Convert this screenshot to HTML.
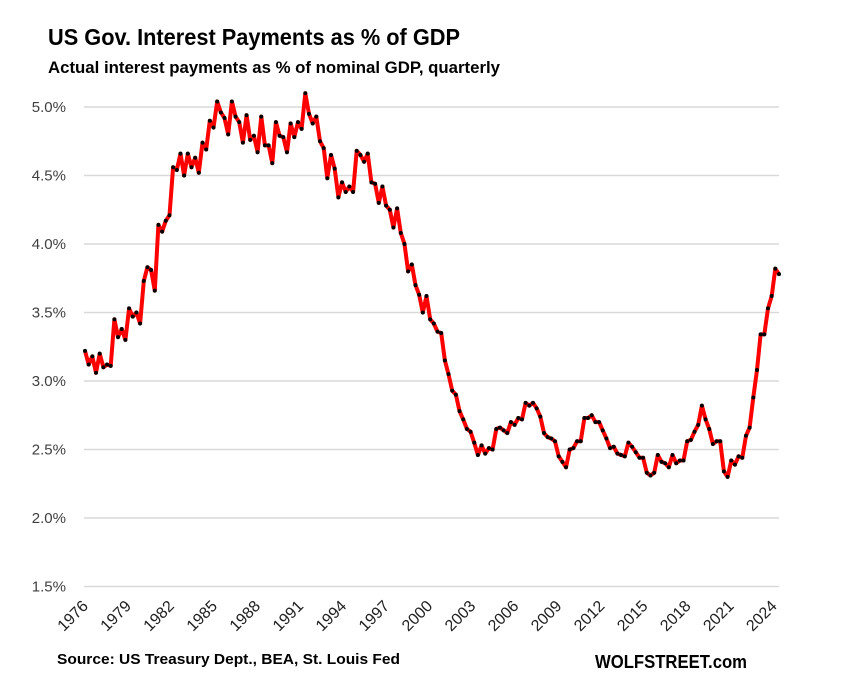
<!DOCTYPE html>
<html><head><meta charset="utf-8"><style>
body{margin:0;background:#fff;}
svg{display:block;font-family:"Liberation Sans",sans-serif;}
</style></head><body>
<svg id="c" width="843" height="691" viewBox="0 0 843 691" xmlns="http://www.w3.org/2000/svg">
<text x="48" y="45" font-size="23" font-weight="bold" fill="#000" textLength="412" lengthAdjust="spacingAndGlyphs">US Gov. Interest Payments as % of GDP</text>
<text x="48" y="73" font-size="17" font-weight="bold" fill="#000" textLength="452" lengthAdjust="spacingAndGlyphs">Actual interest payments as % of nominal GDP, quarterly</text>
<g id="grid" stroke="#d9d9d9" stroke-width="1.5"></g>
<g id="yl" font-size="15" fill="#404040" text-anchor="end"></g>
<g id="xl" font-size="16" fill="#202020" text-anchor="end"></g>
<polyline id="ln" fill="none" stroke="#ff0000" stroke-width="4" stroke-linejoin="round"/>
<g id="mk" fill="#000"></g>
<text x="57" y="664" font-size="15" font-weight="bold" fill="#000" textLength="343" lengthAdjust="spacingAndGlyphs">Source: US Treasury Dept., BEA, St. Louis Fed</text>
<text x="595" y="668" font-size="18" font-weight="bold" fill="#000" textLength="152" lengthAdjust="spacingAndGlyphs">WOLFSTREET.com</text>
</svg>
<script>
var ns="http://www.w3.org/2000/svg";
function el(t,a,p,txt){var e=document.createElementNS(ns,t);for(var k in a)e.setAttribute(k,a[k]);if(txt)e.textContent=txt;document.getElementById(p).appendChild(e);}
function Y(v){return 107+(5.0-v)*137;}
var labs=["5.0%","4.5%","4.0%","3.5%","3.0%","2.5%","2.0%","1.5%"];
for(var i=0;i<8;i++){var v=5-0.5*i,y=Y(v);el("line",{x1:84,x2:779,y1:y,y2:y},"grid");el("text",{x:66,y:y+5},"yl",labs[i]);}
for(var yr=1976;yr<=2024;yr+=3){var x=89+(yr-1976)*14.35;el("text",{x:x,y:607,transform:"rotate(-45 "+x+" 607)"},"xl",""+yr);}
var d=[3.22,3.12,3.18,3.06,3.2,3.1,3.12,3.11,3.45,3.32,3.38,3.3,3.53,3.47,3.5,3.42,3.73,3.83,3.81,3.66,4.14,4.09,4.17,4.21,4.56,4.54,4.66,4.5,4.66,4.56,4.63,4.52,4.74,4.69,4.9,4.85,5.04,4.96,4.92,4.8,5.04,4.93,4.89,4.74,4.94,4.76,4.79,4.67,4.93,4.72,4.72,4.59,4.89,4.79,4.78,4.67,4.88,4.78,4.89,4.84,5.1,4.95,4.88,4.93,4.75,4.7,4.48,4.65,4.55,4.34,4.45,4.38,4.42,4.38,4.68,4.65,4.6,4.66,4.45,4.44,4.3,4.42,4.28,4.25,4.12,4.26,4.08,4.0,3.8,3.85,3.7,3.63,3.5,3.62,3.45,3.42,3.36,3.35,3.15,3.05,2.93,2.9,2.78,2.72,2.65,2.63,2.55,2.46,2.53,2.47,2.51,2.5,2.65,2.66,2.64,2.62,2.7,2.68,2.73,2.72,2.84,2.82,2.84,2.8,2.74,2.62,2.59,2.58,2.56,2.45,2.41,2.37,2.5,2.51,2.56,2.56,2.73,2.73,2.75,2.7,2.7,2.64,2.58,2.51,2.52,2.47,2.46,2.45,2.55,2.52,2.48,2.44,2.44,2.33,2.31,2.33,2.46,2.41,2.4,2.37,2.46,2.4,2.42,2.42,2.56,2.57,2.63,2.68,2.82,2.72,2.65,2.54,2.56,2.56,2.34,2.3,2.42,2.39,2.45,2.44,2.6,2.66,2.88,3.08,3.34,3.34,3.53,3.62,3.82,3.78];
var n=d.length,pts=[];
for(var i=0;i<n;i++){var x=85+i*(694/(n-1)),y=Y(d[i]);pts.push(x.toFixed(1)+","+y.toFixed(1));el("circle",{cx:x,cy:y,r:2},"mk");}
document.getElementById("ln").setAttribute("points",pts.join(" "));
</script>
</body></html>
